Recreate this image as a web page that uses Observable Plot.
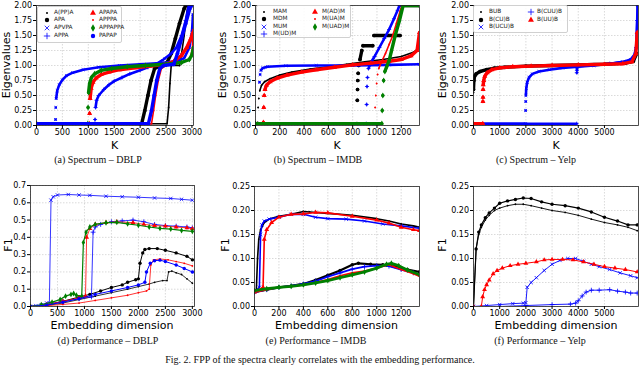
<!DOCTYPE html>
<html><head><meta charset="utf-8">
<script src="https://cdn.jsdelivr.net/npm/d3@7"></script>
<script src="https://cdn.jsdelivr.net/npm/@observablehq/plot@0.6"></script>
<style>
html,body{margin:0;padding:0;background:#fff;}
#fig{position:relative;width:640px;height:385px;overflow:hidden;background:#fff;font-family:"DejaVu Sans";}
.lab{position:absolute;font-family:"DejaVu Sans";font-size:11px;line-height:1;white-space:nowrap;transform:translate(-50%,-50%);color:#000;}
.rot{transform:translate(-50%,-50%) rotate(-90deg);}
.cap{position:absolute;font-family:"Liberation Serif";font-size:10px;line-height:1;white-space:nowrap;transform:translate(-50%,-50%);color:#111;}
.leg{position:absolute;background:rgba(255,255,255,0.85);border:0.7px solid #d0d0d0;border-radius:2px;box-sizing:border-box;}
.legt{position:absolute;font-family:"DejaVu Sans";font-size:5.8px;line-height:1;white-space:nowrap;transform:translateY(-50%);color:#222;}
</style></head>
<body><div id="fig"></div>
<script>
// ---------------- DATA ----------------
// (a) Spectrum – DBLP  [K, eigenvalue]  (the lowest eigenvalues sit at about 0.03)
const dblpNames = ["A(PP)A","APA","APVPA","APPA","APAPA","APPPA","APPAPPA","PAPAP"];
const specDblp_AppA = [[0,0.03],[2520,0.03],[2550,0.3],[2575,0.7],[2600,1.0],[2760,1.0],[2800,1.2],[2850,1.5],[2890,1.8],[2920,2.0],[3030,2.0]];
const specDblp_APA = [[0,0.03],[2030,0.03],[2090,0.25],[2150,0.5],[2210,0.75],[2280,0.95],[2400,1.0],[2520,1.05],[2600,1.2],[2680,1.45],[2760,1.7],[2850,1.95],[2880,2.0],[3030,2.0]];
const specDblp_APVPA = [[0,0.03],[365,0.03],[368,0.1],[372,0.3],[380,0.45],[400,0.58],[440,0.68],[500,0.76],[580,0.83],[700,0.88],[900,0.93],[1200,0.97],[1600,1.0],[2000,1.02],[2400,1.04],[2700,1.07],[2850,1.12],[2950,1.3],[3000,1.55],[3020,1.85],[3030,2.0]];
const specDblp_APPA = [[0,0.03],[1125,0.03],[1130,0.1],[1140,0.3],[1160,0.42],[1200,0.5],[1300,0.6],[1400,0.68],[1500,0.74],[1650,0.8],[1800,0.86],[2000,0.92],[2150,0.97],[2300,1.02],[2450,1.1],[2600,1.2],[2700,1.3],[2800,1.5],[2880,1.75],[2940,2.0],[3030,2.0]];
const specDblp_APAPA = [[0,0.03],[1020,0.03],[1025,0.2],[1035,0.45],[1055,0.62],[1090,0.72],[1150,0.79],[1250,0.85],[1400,0.89],[1600,0.93],[1900,0.96],[2200,0.99],[2500,1.02],[2650,1.07],[2800,1.17],[2900,1.3],[2980,1.45],[3020,1.55]];
const specDblp_APPPA = [[0,0.03],[2220,0.03],[2260,0.25],[2300,0.5],[2350,0.75],[2410,0.95],[2500,1.0],[2700,1.03],[2900,1.08],[2980,1.15],[3010,1.3],[3025,1.6],[3030,2.0]];
const specDblp_APPAPPA = [[0,0.03],[990,0.03],[995,0.3],[1005,0.55],[1025,0.7],[1060,0.8],[1120,0.86],[1250,0.92],[1450,0.95],[1750,0.98],[2100,1.0],[2500,1.02],[2800,1.05],[2950,1.1],[3000,1.18],[3030,1.3]];
const specDblp_PAPAP = [[0,0.03],[2160,0.03],[2220,0.25],[2270,0.5],[2320,0.75],[2380,0.95],[2450,1.0],[2650,1.02],[2720,1.2],[2800,1.45],[2880,1.7],[2960,1.95],[2980,2.0],[3030,2.0]];

// (b) Spectrum – IMDB
const imdbNames = ["MAM","MDM","MUM","M(UD)M","M(AD)M","M(UA)M","M(UAD)M"];
const specImdb_MAM = [[0,0.03],[15,0.03],[18,0.05],[22,0.3],[27,0.45],[35,0.58],[50,0.67],[75,0.73],[120,0.78],[200,0.84],[300,0.89],[450,0.94],[600,0.98],[750,1.02],[900,1.06],[1050,1.1],[1200,1.15],[1300,1.22],[1350,1.3]];
const specImdb_MDM = [[0,0.03],[835,0.03],[838,0.42],[840,0.6],[842,0.75],[845,0.87],[850,1.0],[860,1.1],[875,1.25],[885,1.33],[965,1.33],[975,1.5],[1190,1.5],[1200,2.0],[1350,2.0]];
const specImdb_MUM = [[0,0.03],[30,0.03],[33,0.72],[38,0.85],[45,0.92],[60,0.96],[100,0.98],[250,0.995],[500,1.0],[800,1.0],[1100,1.01],[1350,1.02]];
const specImdb_MUDM = [[0,0.03],[912,0.03],[915,0.35],[918,0.65],[922,0.8],[930,0.95],[950,1.05],[980,1.15],[1020,1.3],[1060,1.45],[1100,1.6],[1140,1.78],[1170,1.92],[1185,2.0],[1350,2.0]];
const specImdb_MADM = [[0,0.03],[60,0.03],[65,0.05],[68,0.3],[72,0.5],[78,0.6],[90,0.67],[120,0.73],[180,0.79],[260,0.84],[380,0.89],[500,0.93],[650,0.97],[800,1.01],[950,1.04],[1100,1.07],[1200,1.1],[1280,1.16],[1330,1.25],[1350,1.55]];
const specImdb_MUAM = [[0,0.03],[980,0.03],[985,0.3],[990,0.5],[997,0.7],[1005,0.85],[1015,0.95],[1035,1.05],[1070,1.2],[1100,1.35],[1130,1.5],[1160,1.7],[1190,1.9],[1205,2.0],[1350,2.0]];
const specImdb_MUADM = [[0,0.03],[1040,0.03],[1043,0.25],[1048,0.5],[1055,0.75],[1065,0.9],[1080,0.98],[1100,1.08],[1120,1.25],[1150,1.5],[1185,1.75],[1215,2.0],[1350,2.0]];

// (c) Spectrum – Yelp
const yelpNames = ["BUB","B(CU)B","B(UCU)B","B(CUU)B","B(UU)B"];
const specYelp_BUB = [[0,0.55],[10,0.6],[20,0.72],[40,0.8],[80,0.85],[200,0.89],[400,0.92],[700,0.95],[1000,0.965],[1500,0.98],[2000,0.99],[3000,1.0],[4000,1.01],[5000,1.02],[5600,1.03],[6000,1.05],[6150,1.1],[6230,1.3]];
const specYelp_BCUB = [[0,0.6],[15,0.75],[40,0.82],[100,0.86],[250,0.9],[500,0.93],[800,0.955],[1200,0.97],[2000,0.99],[3000,1.0],[4000,1.01],[5000,1.02],[5800,1.04],[6100,1.07],[6230,1.2]];
const specYelp_BUCUB = [[0,0.03],[1985,0.03],[1990,0.25],[1995,0.4],[2000,0.5],[2015,0.62],[2050,0.72],[2120,0.8],[2250,0.86],[2500,0.9],[2900,0.93],[3400,0.96],[4000,0.98],[4600,1.0],[5200,1.03],[5700,1.06],[6000,1.1],[6180,1.2],[6240,1.4],[6260,2.0]];
const specYelp_BCUUB = [[0,0.03],[3940,0.03],[3945,0.88],[3950,0.92],[3955,0.96],[4000,0.99],[4600,1.01],[5200,1.03],[5800,1.06],[6100,1.1],[6210,1.3],[6250,1.75]];
const specYelp_BUUB = [[0,0.03],[355,0.03],[360,0.4],[363,0.47],[366,0.6],[372,0.68],[390,0.75],[430,0.82],[520,0.88],[700,0.93],[1000,0.96],[1500,0.98],[2200,0.99],[3000,1.0],[4000,1.01],[5000,1.02],[5700,1.03],[6050,1.06],[6200,1.2],[6250,1.55]];

// (d) Performance – DBLP  [embedding dimension, F1]
const perfDblp_AppA = [[0,0],[300,0.006],[600,0.02],[900,0.04],[1200,0.06],[1500,0.08],[1800,0.1],[2000,0.115],[2200,0.13],[2300,0.14],[2450,0.15],[2530,0.15],[2560,0.2],[2620,0.205],[2700,0.195],[2800,0.185],[2900,0.16],[3000,0.135]];
const perfDblp_APA = [[0,0],[300,0.01],[600,0.03],[900,0.055],[1100,0.07],[1300,0.09],[1500,0.11],[1700,0.125],[1800,0.14],[1950,0.155],[2000,0.16],[2030,0.25],[2080,0.31],[2120,0.33],[2200,0.335],[2350,0.335],[2500,0.325],[2700,0.31],[2900,0.29],[3000,0.27]];
const perfDblp_APVPA = [[0,0],[100,0.005],[200,0.01],[300,0.02],[350,0.02],[380,0.615],[420,0.635],[500,0.645],[700,0.648],[900,0.645],[1100,0.643],[1400,0.638],[1700,0.635],[2000,0.632],[2300,0.628],[2600,0.625],[2800,0.62],[3000,0.615]];
const perfDblp_APPA = [[0,0],[300,0.01],[600,0.03],[900,0.045],[1130,0.055],[1160,0.43],[1200,0.46],[1300,0.475],[1500,0.49],[1700,0.495],[1900,0.5],[2100,0.49],[2300,0.475],[2500,0.468],[2700,0.465],[2900,0.46],[3000,0.455]];
const perfDblp_APAPA = [[0,0],[300,0.01],[600,0.03],[900,0.05],[1020,0.06],[1040,0.4],[1100,0.45],[1200,0.475],[1400,0.485],[1600,0.49],[1900,0.485],[2100,0.475],[2300,0.468],[2500,0.465],[2700,0.46],[2900,0.455],[3000,0.45]];
const perfDblp_APPPA = [[0,0],[300,0.005],[600,0.012],[900,0.02],[1200,0.035],[1500,0.05],[1800,0.065],[2000,0.08],[2150,0.09],[2200,0.1],[2230,0.24],[2280,0.27],[2400,0.275],[2550,0.27],[2700,0.26],[2850,0.25],[3000,0.235]];
const perfDblp_APPAPPA = [[0,0],[200,0.01],[400,0.025],[550,0.04],[650,0.06],[750,0.07],[800,0.075],[850,0.065],[950,0.06],[980,0.37],[1030,0.43],[1100,0.46],[1200,0.475],[1400,0.485],[1600,0.487],[1800,0.478],[2000,0.47],[2200,0.46],[2400,0.452],[2600,0.448],[2800,0.44],[3000,0.435]];
const perfDblp_PAPAP = [[0,0],[300,0.008],[600,0.025],[900,0.045],[1200,0.07],[1500,0.09],[1800,0.11],[2000,0.125],[2120,0.14],[2150,0.2],[2220,0.25],[2300,0.265],[2400,0.268],[2500,0.26],[2700,0.24],[2850,0.22],[3000,0.2]];

// (e) Performance – IMDB
const perfImdb_MAM = [[0,0.03],[15,0.035],[25,0.1],[35,0.14],[50,0.16],[80,0.175],[120,0.182],[200,0.188],[300,0.192],[400,0.198],[450,0.197],[600,0.194],[800,0.19],[1000,0.183],[1100,0.178],[1200,0.172],[1300,0.168],[1350,0.165]];
const perfImdb_MDM = [[0,0.03],[100,0.035],[200,0.04],[300,0.043],[400,0.047],[500,0.055],[600,0.065],[700,0.075],[800,0.087],[850,0.09],[950,0.088],[1050,0.087],[1150,0.083],[1250,0.077],[1350,0.072]];
const perfImdb_MUM = [[0,0.03],[40,0.04],[50,0.15],[60,0.17],[80,0.178],[120,0.182],[200,0.186],[300,0.192],[400,0.192],[500,0.186],[600,0.183],[750,0.182],[900,0.178],[1050,0.172],[1200,0.168],[1350,0.163]];
const perfImdb_MUDM = [[0,0.03],[100,0.035],[200,0.04],[300,0.043],[400,0.047],[500,0.053],[600,0.062],[700,0.07],[800,0.078],[900,0.083],[1000,0.085],[1100,0.084],[1200,0.077],[1300,0.07],[1350,0.067]];
const perfImdb_MADM = [[0,0.03],[70,0.04],[80,0.14],[100,0.16],[140,0.175],[200,0.186],[300,0.192],[400,0.193],[500,0.196],[600,0.195],[800,0.188],[1000,0.18],[1100,0.174],[1200,0.165],[1300,0.16],[1350,0.158]];
const perfImdb_MUAM = [[0,0.03],[100,0.035],[200,0.04],[300,0.042],[400,0.045],[500,0.05],[600,0.056],[700,0.064],[800,0.07],[900,0.074],[1000,0.08],[1100,0.087],[1200,0.077],[1300,0.068],[1350,0.063]];
const perfImdb_MUADM = [[0,0.033],[100,0.037],[200,0.04],[300,0.042],[400,0.045],[500,0.049],[600,0.054],[700,0.06],[800,0.066],[900,0.072],[1000,0.08],[1080,0.088],[1120,0.09],[1180,0.085],[1250,0.076],[1350,0.066]];

// (f) Performance – Yelp
const perfYelp_BUB = [[0,0],[100,0.12],[200,0.15],[300,0.165],[450,0.18],[600,0.19],[800,0.2],[1000,0.205],[1300,0.21],[1600,0.213],[1900,0.213],[2200,0.21],[2600,0.205],[3000,0.2],[3500,0.196],[4000,0.19],[4500,0.182],[5000,0.175],[5500,0.17],[5900,0.165],[6250,0.158]];
const perfYelp_BCUB = [[0,0],[100,0.12],[200,0.155],[300,0.17],[450,0.185],[600,0.195],[800,0.205],[1000,0.215],[1300,0.22],[1600,0.223],[1900,0.226],[2200,0.225],[2600,0.218],[3000,0.213],[3500,0.21],[4000,0.205],[4500,0.197],[5000,0.186],[5500,0.178],[5900,0.17],[6250,0.17]];
const perfYelp_BUCUB = [[0,0],[500,0.002],[1000,0.004],[1500,0.006],[1900,0.007],[2000,0.008],[2050,0.04],[2200,0.05],[2400,0.06],[2700,0.075],[3000,0.088],[3300,0.096],[3600,0.1],[3900,0.1],[4200,0.094],[4500,0.088],[4800,0.083],[5200,0.077],[5600,0.07],[6000,0.064],[6250,0.06]];
const perfYelp_BCUUB = [[0,0],[1000,0],[2000,0.002],[3000,0.004],[3700,0.005],[3900,0.007],[4000,0.012],[4150,0.022],[4300,0.03],[4500,0.034],[4800,0.034],[5200,0.035],[5500,0.032],[5800,0.03],[6000,0.028],[6250,0.028]];
const perfYelp_BUUB = [[0,0],[300,0],[350,0.02],[420,0.035],[500,0.045],[600,0.055],[750,0.068],[900,0.075],[1100,0.08],[1400,0.085],[1700,0.088],[2000,0.09],[2400,0.093],[2700,0.097],[3000,0.098],[3400,0.098],[3800,0.097],[4200,0.093],[4600,0.088],[5000,0.083],[5400,0.08],[5800,0.077],[6250,0.072]];

// tick values
const ticksDblpX = [0,500,1000,1500,2000,2500,3000];
const ticksImdbX = [0,200,400,600,800,1000,1200];
const ticksYelpX = [0,1000,2000,3000,4000,5000];
const ticksEigY = [0,0.25,0.5,0.75,1,1.25,1.5,1.75,2];
const ticksF1DblpY = [0,0.1,0.2,0.3,0.4,0.5,0.6,0.7];
const ticksF1Y = [0,0.05,0.1,0.15,0.2,0.25];

// ---------------- STYLES ----------------
const K="#000000", B="#0000ff", R="#ff0000", G="#008000";
const sPoint = c => ({color:c, symbol:"circle", specLw:1.6, r:0.9, leg:1.0});
const sBig = c => ({color:c, symbol:"circle", specLw:3.4, r:1.7, leg:2.2});
const sTimes = c => ({color:c, symbol:"times", specLw:2.6, r:1.7, leg:2.2});
const sPlus = c => ({color:c, symbol:"plus", specLw:2.6, r:1.7, leg:2.2});
const sTri = c => ({color:c, symbol:"triangle", specLw:3.4, r:1.8, leg:2.2});
const sDia = c => ({color:c, symbol:"diamond", specLw:3.4, r:1.8, leg:2.2});
const dblpStyles = [sPoint(K), sBig(K), sTimes(B), sPlus(B), sTri(R), sPoint(R), sDia(G), sBig(B)];
const imdbStyles = [sPoint(K), sBig(K), sTimes(B), sPlus(B), sTri(R), sPoint(R), sDia(G)];
const yelpStyles = [sPoint(K), sBig(K), sTimes(B), sPlus(B), sTri(R)];

const fig = document.getElementById("fig");
const symMap = {circle:d3.symbolCircle, times:d3.symbolTimes, plus:d3.symbolPlus, triangle:d3.symbolTriangle, diamond:d3.symbolDiamond};
const stroked = s => s === "times" || s === "plus";

// In the spectrum plots consecutive eigenvalues that are far apart show as separate markers:
// the connecting line gets a gap where the value jumps within a few indices.
function lineRows(data, breakGaps) {
  const out = [];
  data.forEach(([x, y], i) => {
    if (breakGaps && i > 0) {
      const [px, py] = data[i - 1];
      if (x - px < 12 && Math.abs(y - py) > 0.04) out.push({x: NaN, y: NaN});
    }
    out.push({x, y});
  });
  return out;
}

function buildPanel(cfg) {
  const gridStyle = {stroke:"#b0b0b0", strokeOpacity:0.8, strokeWidth:0.6, strokeDasharray:"1.5,1.5"};
  const marks = [Plot.gridX(cfg.xTicks, gridStyle), Plot.gridY(cfg.yTicks, gridStyle)];
  cfg.series.forEach((data, i) => {
    const st = cfg.styles[i];
    const pts = data.map(([x, y]) => ({x, y}));
    const lw = cfg.spectrum ? st.specLw : (cfg.lw && cfg.lw[i]) || 0.9;
    marks.push(Plot.line(lineRows(data, cfg.spectrum), {x:"x", y:"y", stroke:st.color, strokeWidth:lw, strokeLinejoin:"round", clip:true}));
    const r = cfg.spectrum ? st.specLw * 0.55 : st.r;
    marks.push(Plot.dot(pts, stroked(st.symbol)
      ? {x:"x", y:"y", symbol:st.symbol, r, stroke:st.color, strokeWidth:0.8, fill:"none", clip:true}
      : {x:"x", y:"y", symbol:st.symbol, r, fill:st.color, stroke:"none", clip:true}));
  });
  marks.push(Plot.frame({stroke:"#222", strokeWidth:0.8}));
  marks.push(Plot.axisX(cfg.xTicks, {tickSize:3, tickPadding:1, tickFormat:d => String(d), label:null}));
  marks.push(Plot.axisY(cfg.yTicks, {tickSize:3, tickPadding:1.5, tickFormat:d3.format(cfg.yFmt), label:null}));
  const svg = Plot.plot({
    width:cfg.w, height:cfg.h, marginLeft:cfg.ml, marginRight:cfg.mr, marginTop:cfg.mt, marginBottom:cfg.mb,
    x:{domain:cfg.xDomain, label:null}, y:{domain:cfg.yDomain, label:null},
    style:{fontFamily:"DejaVu Sans", fontSize:"8px", overflow:"visible", background:"transparent", color:"#000"},
    marks
  });
  svg.style.position = "absolute";
  svg.style.left = cfg.left + "px";
  svg.style.top = cfg.top + "px";
  fig.appendChild(svg);
}

function buildLegend(L, names, styles) {
  const div = document.createElement("div");
  div.className = "leg";
  Object.assign(div.style, {left:L.x+"px", top:L.y+"px", width:L.w+"px", height:L.h+"px"});
  names.forEach((name, i) => {
    const col = Math.floor(i / L.rows), row = i % L.rows;
    const cy = L.row0 + row * L.step;
    const st = styles[i];
    const ns = "http://www.w3.org/2000/svg";
    const s = document.createElementNS(ns, "svg");
    s.setAttribute("width", 8); s.setAttribute("height", 8);
    s.style.position = "absolute";
    s.style.left = (L.mx[col] - 4) + "px";
    s.style.top = (cy - 4) + "px";
    s.style.overflow = "visible";
    const p = document.createElementNS(ns, "path");
    p.setAttribute("transform", "translate(4,4)");
    p.setAttribute("d", d3.symbol(symMap[st.symbol], Math.PI * st.leg * st.leg)());
    if (stroked(st.symbol)) { p.setAttribute("stroke", st.color); p.setAttribute("fill", "none"); p.setAttribute("stroke-width", 0.8); }
    else p.setAttribute("fill", st.color);
    s.appendChild(p);
    div.appendChild(s);
    const t = document.createElement("div");
    t.className = "legt";
    t.textContent = name;
    t.style.left = L.tx[col] + "px";
    t.style.top = cy + "px";
    div.appendChild(t);
  });
  fig.appendChild(div);
}

function label(text, x, y, cls) {
  const d = document.createElement("div");
  d.className = cls;
  d.textContent = text;
  d.style.left = x + "px";
  d.style.top = y + "px";
  fig.appendChild(d);
}

// ---------------- PANELS ----------------
buildPanel({left:0, top:0, w:205, h:140, ml:36, mr:12, mt:5, mb:15, spectrum:true,
  xDomain:[0,3030], yDomain:[0,2], xTicks:ticksDblpX, yTicks:ticksEigY, yFmt:".2f", styles:dblpStyles,
  series:[specDblp_AppA, specDblp_APA, specDblp_APVPA, specDblp_APPA, specDblp_APAPA, specDblp_APPPA, specDblp_APPAPPA, specDblp_PAPAP]});
buildPanel({left:215, top:0, w:210, h:140, ml:40, mr:6, mt:5, mb:15, spectrum:true,
  xDomain:[0,1350], yDomain:[0,2], xTicks:ticksImdbX, yTicks:ticksEigY, yFmt:".2f", styles:imdbStyles,
  series:[specImdb_MAM, specImdb_MDM, specImdb_MUM, specImdb_MUDM, specImdb_MADM, specImdb_MUAM, specImdb_MUADM]});
buildPanel({left:430, top:0, w:210, h:140, ml:43, mr:2, mt:5, mb:15, spectrum:true,
  xDomain:[0,6300], yDomain:[0,2], xTicks:ticksYelpX, yTicks:ticksEigY, yFmt:".2f", styles:yelpStyles,
  series:[specYelp_BUB, specYelp_BCUB, specYelp_BUCUB, specYelp_BCUUB, specYelp_BUUB]});

buildPanel({left:0, top:175, w:205, h:146, ml:30, mr:11, mt:10, mb:15,
  xDomain:[0,3040], yDomain:[0,0.7], xTicks:ticksDblpX, yTicks:ticksF1DblpY, yFmt:".1f", styles:dblpStyles,
  lw:[0.8,1.0,0.8,0.8,0.8,0.8,1.2,1.0],
  series:[perfDblp_AppA, perfDblp_APA, perfDblp_APVPA, perfDblp_APPA, perfDblp_APAPA, perfDblp_APPPA, perfDblp_APPAPPA, perfDblp_PAPAP]});
buildPanel({left:215, top:175, w:210, h:146, ml:39, mr:6, mt:11, mb:15,
  xDomain:[0,1350], yDomain:[0,0.25], xTicks:ticksImdbX, yTicks:ticksF1Y, yFmt:".2f", styles:imdbStyles,
  lw:[1.6,2.2,1.6,1.8,1.6,1.6,2.8],
  series:[perfImdb_MAM, perfImdb_MDM, perfImdb_MUM, perfImdb_MUDM, perfImdb_MADM, perfImdb_MUAM, perfImdb_MUADM]});
buildPanel({left:430, top:175, w:210, h:146, ml:43, mr:2, mt:11, mb:15,
  xDomain:[0,6300], yDomain:[0,0.25], xTicks:ticksYelpX, yTicks:ticksF1Y, yFmt:".2f", styles:yelpStyles,
  lw:[0.9,1.2,0.9,0.9,1.0],
  series:[perfYelp_BUB, perfYelp_BCUB, perfYelp_BUCUB, perfYelp_BCUUB, perfYelp_BUUB]});

// legends
buildLegend({x:37, y:6, w:85, h:37, rows:4, row0:5.7, step:7.7, mx:[9,55], tx:[16,61]}, dblpNames, dblpStyles);
buildLegend({x:256, y:5, w:95, h:33, rows:4, row0:6, step:7.4, mx:[7,58], tx:[16,65]}, imdbNames, imdbStyles);
buildLegend({x:473, y:5, w:95, h:28, rows:3, row0:6, step:7.5, mx:[7,57], tx:[15,63]}, yelpNames, yelpStyles);

// axis titles
label("K", 114.5, 145, "lab"); label("K", 337, 145, "lab"); label("K", 556, 145, "lab");
label("Eigenvalues", 6, 65, "lab rot"); label("Eigenvalues", 222, 65, "lab rot"); label("Eigenvalues", 442, 65, "lab rot");
label("Embedding dimension", 112, 325, "lab"); label("Embedding dimension", 336.5, 325, "lab"); label("Embedding dimension", 556, 325, "lab");
label("F1", 7.5, 245, "lab rot"); label("F1", 225, 245, "lab rot"); label("F1", 442, 245, "lab rot");

// captions
label("(a) Spectrum – DBLP", 98, 160, "cap");
label("(b) Spectrum – IMDB", 318, 160, "cap");
label("(c) Spectrum – Yelp", 536, 160, "cap");
label("(d) Performance – DBLP", 108, 341, "cap");
label("(e) Performance – IMDB", 316, 341, "cap");
label("(f) Performance – Yelp", 540, 341, "cap");
label("Fig. 2.  FPP of the spectra clearly correlates with the embedding performance.", 320, 360, "cap");
</script>
</body></html>
